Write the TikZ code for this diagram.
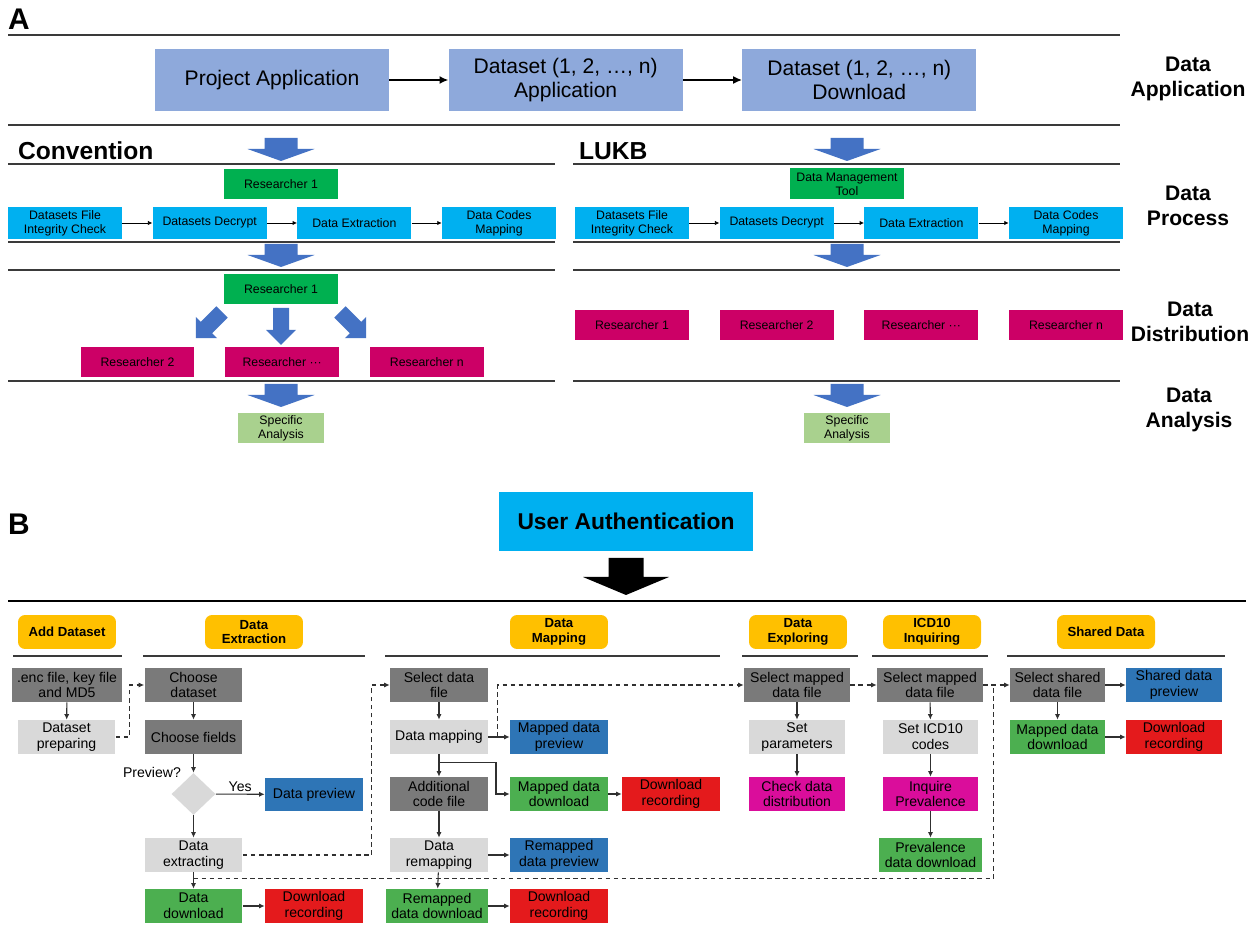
\documentclass[tikz,border=0pt]{standalone}
\usepackage{fontspec}
\setmainfont{Liberation Sans}
\usetikzlibrary{positioning,calc,arrows.meta,shapes.geometric}
\definecolor{appblue}{HTML}{8EA9DB}
\definecolor{proccyan}{HTML}{00B0F0}
\definecolor{resgrn}{HTML}{00B050}
\definecolor{rescrim}{HTML}{CC0066}
\definecolor{anagrn}{HTML}{A9D18E}
\definecolor{arrowblue}{HTML}{4472C4}
\definecolor{linegray}{HTML}{3A3A3A}
\definecolor{flowgray}{HTML}{303030}
\definecolor{bdark}{HTML}{7A7A7A}
\definecolor{blight}{HTML}{D9D9D9}
\definecolor{bblue}{HTML}{2E75B6}
\definecolor{bgreen}{HTML}{4CAF50}
\definecolor{bred}{HTML}{E41A1C}
\definecolor{bmag}{HTML}{DA0D9B}
\definecolor{hdryel}{HTML}{FFC000}

\begin{document}
\begin{tikzpicture}[
		x=0.02cm, y=-0.02cm,
		node distance=0.6cm,
		every node/.style={inner sep=1pt},
		bigbox/.style={fill=appblue, minimum width=4.68cm, minimum height=1.24cm, align=center, font=\fontsize{12}{14}\selectfont},
		stepa/.style={fill=proccyan, minimum width=2.28cm, minimum height=0.64cm, align=center, font=\fontsize{7}{8}\selectfont},
		resgreen/.style={stepa, fill=resgrn, minimum height=0.6cm},
		resred/.style={stepa, fill=rescrim, minimum height=0.6cm},
		analysis/.style={stepa, fill=anagrn, minimum width=1.72cm, minimum height=0.6cm},
		phase/.style={align=center, font=\bfseries\fontsize{12}{14.2}\selectfont},
		section/.style={anchor=west, font=\bfseries\fontsize{14}{16}\selectfont},
		panel/.style={font=\bfseries\fontsize{17}{20}\selectfont},
		authbox/.style={fill=proccyan, minimum width=5.08cm, minimum height=1.18cm, font=\bfseries\fontsize{13}{15}\selectfont},
		hdr/.style={fill=hdryel, rounded corners=4pt, minimum width=1.96cm, minimum height=0.68cm, align=center, font=\bfseries\fontsize{7.5}{8.5}\selectfont},
		stepb/.style={minimum width=1.96cm, minimum height=0.68cm, align=center, font=\fontsize{8}{9}\selectfont},
		boxdk/.style={stepb, fill=bdark},
		boxlt/.style={stepb, fill=blight},
		boxpv/.style={stepb, fill=bblue},
		boxdl/.style={stepb, fill=bgreen},
		boxrec/.style={stepb, fill=bred},
		boxmg/.style={stepb, fill=bmag},
		thickline/.style={line width=1.2pt, draw=linegray},
		thinline/.style={line width=0.7pt, draw=linegray},
		bigflow/.style={-{Latex[length=5pt,width=4.5pt]}, line width=0.8pt},
		tinyflow/.style={-{Latex[length=2.5pt,width=2.5pt]}, line width=0.45pt},
		flow/.style={-{Latex[length=3.2pt,width=3pt]}, line width=0.6pt, draw=flowgray},
		dashline/.style={dash pattern=on 2.6pt off 2pt, line width=0.6pt, draw=flowgray},
		dashflow/.style={dashline, -{Latex[length=3.2pt,width=3pt]}},
		pics/blockarrow/.style n args={4}{code={
			\fill[pic actions] (-#1/2,0) -- (#1/2,0) -- (#1/2,#3-#4) -- (#2/2,#3-#4) -- (0,#3) -- (-#2/2,#3-#4) -- (-#1/2,#3-#4) -- cycle;
		}},
	]
		\fill[white, use as bounding box] (0,0) rectangle (1258,925);

		% panel A
		\node (lblA) at (19,19) [panel] {A};
		\draw[thickline] (8,35) -- (1120,35);
		\node (prj) at (272,80) [bigbox] {Project Application};
		\node (dsa) [bigbox, right=1.18cm of prj] {Dataset (1, 2, …, n)\\Application};
		\node (dsd) [bigbox, right=1.18cm of dsa] {Dataset (1, 2, …, n)\\Download};
		\draw[bigflow] (prj) -- (dsa);
		\draw[bigflow] (dsa) -- (dsd);
		\draw[thickline] (8,125) -- (1120,125);

		\node (lapp) at (1188,79) [phase] {Data\\Application};
		\node (lproc) at (1188,206) [phase] {Data\\Process};
		\node (ldist) at (1190,322) [phase] {Data\\Distribution};
		\node (lana) at (1189,410) [phase] {Data\\Analysis};

		\node (conv) at (16,151) [section] {Convention};
		\node (lukb) at (577,151) [section] {LUKB};
		\draw[thinline] (8,164) -- (555,164);
		\draw[thinline] (573,164) -- (1120,164);
		\pic[fill=arrowblue] at (281,138) {blockarrow={33}{67}{23}{12}};
		\pic[fill=arrowblue] at (847,138) {blockarrow={33}{67}{23}{12}};

		\node (res0) at (281,184) [resgreen] {Researcher 1};
		\node (dmt) at (847,184) [resgreen, minimum height=0.62cm] {Data Management\\Tool};

		\node (fic1) at (65,223) [stepa] {Datasets File\\Integrity Check};
		\node (dec1) [stepa, right=of fic1] {Datasets Decrypt};
		\node (ext1) [stepa, right=of dec1] {Data Extraction};
		\node (map1) [stepa, right=of ext1] {Data Codes\\Mapping};
		\node (fic2) at (632,223) [stepa] {Datasets File\\Integrity Check};
		\node (dec2) [stepa, right=of fic2] {Datasets Decrypt};
		\node (ext2) [stepa, right=of dec2] {Data Extraction};
		\node (map2) [stepa, right=of ext2] {Data Codes\\Mapping};
		\draw[tinyflow] (fic1) -- (dec1);
		\draw[tinyflow] (dec1) -- (ext1);
		\draw[tinyflow] (ext1) -- (map1);
		\draw[tinyflow] (fic2) -- (dec2);
		\draw[tinyflow] (dec2) -- (ext2);
		\draw[tinyflow] (ext2) -- (map2);

		\draw[thinline] (8,242) -- (555,242);
		\draw[thinline] (573,242) -- (1120,242);
		\pic[fill=arrowblue] at (281,244) {blockarrow={33}{67}{23}{12}};
		\pic[fill=arrowblue] at (847,244) {blockarrow={33}{67}{23}{12}};
		\draw[thinline] (8,270) -- (555,270);
		\draw[thinline] (573,270) -- (1120,270);

		\node (res1) at (281,289) [resgreen] {Researcher 1};
		\pic[fill=arrowblue, rotate=-45] at (222,312) {blockarrow={16}{30}{37}{15}};
		\pic[fill=arrowblue] at (281,308) {blockarrow={16}{30}{37}{15}};
		\pic[fill=arrowblue, rotate=45] at (340,312) {blockarrow={16}{30}{37}{15}};
		\node (res2) at (137.5,362) [resred] {Researcher 2};
		\node (resd) [resred, right=of res2] {Researcher ···};
		\node (resn) [resred, right=of resd] {Researcher n};

		\node (lres1) at (632,325.5) [resred] {Researcher 1};
		\node (lres2) [resred, right=of lres1] {Researcher 2};
		\node (lresd) [resred, right=of lres2] {Researcher ···};
		\node (lresn) [resred, right=of lresd] {Researcher n};

		\draw[thinline] (8,381) -- (555,381);
		\draw[thinline] (573,381) -- (1120,381);
		\pic[fill=arrowblue] at (281,384) {blockarrow={33}{67}{23}{12}};
		\pic[fill=arrowblue] at (847,384) {blockarrow={33}{67}{23}{12}};
		\node (spa1) at (281,428) [analysis] {Specific\\Analysis};
		\node (spa2) at (847,428) [analysis] {Specific\\Analysis};

		% panel B
		\node (lblB) at (19,524) [panel] {B};
		\node (uauth) at (626,521.5) [authbox] {User Authentication};
		\pic[fill=black] at (626,558) {blockarrow={35}{86}{37}{18}};
		\draw[line width=1.6pt] (8,601) -- (1246,601);

		\node (hadd) at (67,632) [hdr] {Add Dataset};
		\node (hext) at (254,632) [hdr] {Data\\Extraction};
		\node (hmap) at (559,632) [hdr] {Data\\Mapping};
		\node (hexp) at (798,632) [hdr] {Data\\Exploring};
		\node (hicd) at (932,632) [hdr] {ICD10\\Inquiring};
		\node (hshr) at (1106,632) [hdr] {Shared Data};
		\draw[thinline] (13,656) -- (122,656);
		\draw[thinline] (143,656) -- (365,656);
		\draw[thinline] (385,656) -- (720,656);
		\draw[thinline] (742,656) -- (858,656);
		\draw[thinline] (872,656) -- (988,656);
		\draw[thinline] (1007,656) -- (1225,656);

		% add dataset and extraction
		\node (enc) at (67,685) [boxdk, minimum width=2.2cm] {.enc file, key file\\and MD5};
		\node (dprep) at (66.5,737) [boxlt] {Dataset\\preparing};
		\node (chds) at (193.5,685) [boxdk] {Choose\\dataset};
		\node (chfl) at (193.5,737) [boxdk] {Choose fields};
		\node (dia) at (193.5,794) [diamond, fill=blight, minimum width=0.88cm, minimum height=0.84cm, inner sep=0pt] {};
		\node (prvq) at (152,772) [font=\fontsize{8}{9}\selectfont] {Preview?};
		\node (dprv) at (314,794.5) [boxpv] {Data preview};
		\node (dext) at (193.5,855) [boxlt] {Data\\extracting};
		\node (ddl) at (193.5,906) [boxdl] {Data\\download};
		\node (drec) at (314,906) [boxrec] {Download\\recording};

		\draw[flow] (enc) -- (dprep);
		\draw[dashflow] (dprep.east) -- ++(14,0) |- (chds.west);
		\draw[flow] (chds) -- (chfl);
		\draw[flow] (chfl) -- (dia);
		\draw[flow] (dia) -- (dprv) node[midway, above, font=\fontsize{8}{9}\selectfont] {Yes};
		\draw[flow] (dia) -- (dext);
		\draw[flow] (dext) -- (ddl);
		\draw[flow] (ddl) -- (drec);

		% mapping
		\node (sdf) at (439,685) [boxdk] {Select data\\file};
		\node (dmap) at (439,737) [boxlt] {Data mapping};
		\node (mdp) at (559,737) [boxpv] {Mapped data\\preview};
		\node (acf) at (439,794) [boxdk] {Additional\\code file};
		\node (mdd) at (559,794) [boxdl] {Mapped data\\download};
		\node (mrec) at (671,794) [boxrec] {Download\\recording};
		\node (drmp) at (439,855) [boxlt] {Data\\remapping};
		\node (rmdp) at (559,855) [boxpv] {Remapped\\data preview};
		\node (rmdd) at (437,906) [boxdl, minimum width=2.04cm] {Remapped\\data download};
		\node (rrec) at (559,906) [boxrec] {Download\\recording};

		\draw[dashflow] (dext.east) -- ++(129,0) |- (sdf.west);
		\draw[flow] (sdf) -- (dmap);
		\draw[flow] (dmap) -- (mdp);
		\draw[flow] (dmap) -- (acf);
		\draw[flow] (dmap.south) ++(0,8) -- ++(57,0) |- (mdd.west);
		\draw[flow] (mdd) -- (mrec);
		\draw[flow] (acf) -- (drmp);
		\draw[flow] (drmp) -- (rmdp);
		\draw[flow] (drmp) -- (rmdd);
		\draw[flow] (rmdd) -- (rrec);

		% exploring, inquiring, shared
		\node (sel1) at (797,685) [boxdk, minimum width=2.12cm] {Select mapped\\data file};
		\node (spar) at (797,737) [boxlt, minimum width=1.92cm] {Set\\parameters};
		\node (cdd) at (797,794) [boxmg, minimum width=1.92cm] {Check data\\distribution};
		\node (sel2) at (930,685) [boxdk, minimum width=2.12cm] {Select mapped\\data file};
		\node (sicd) at (930.5,737) [boxlt, minimum width=1.9cm] {Set ICD10\\codes};
		\node (inq) at (930.5,794) [boxmg, minimum width=1.9cm] {Inquire\\Prevalence};
		\node (prev) at (930.5,855) [boxdl, minimum width=2.06cm] {Prevalence\\data download};
		\node (ssdf) at (1057.5,685) [boxdk, minimum width=1.9cm] {Select shared\\data file};
		\node (sdp) at (1174,685) [boxpv, minimum width=1.92cm] {Shared data\\preview};
		\node (smdd) at (1057.5,737) [boxdl, minimum width=1.9cm] {Mapped data\\download};
		\node (srec) at (1174,737) [boxrec, minimum width=1.92cm] {Download\\recording};

		\draw[flow] (sel1) -- (spar);
		\draw[flow] (spar) -- (cdd);
		\draw[flow] (sel2) -- (sicd);
		\draw[flow] (sicd) -- (inq);
		\draw[flow] (inq) -- (prev);
		\draw[flow] (ssdf) -- (sdp);
		\draw[flow] (ssdf) -- (smdd);
		\draw[flow] (smdd) -- (srec);

		\coordinate (dmj) at ($(dmap.east)!0.45!(mdp.west)$);
		\coordinate (ddj) at ($(dext.south)!0.4!(ddl.north)$);
		\draw[dashflow] (dmj) |- (sel1.west);
		\draw[dashflow] (sel1) -- (sel2);
		\draw[dashflow] (sel2) -- (ssdf);
		\draw[dashline] (ddj) -| ($(sel2.east)+(10,0)$);
	\end{tikzpicture}
\end{document}
